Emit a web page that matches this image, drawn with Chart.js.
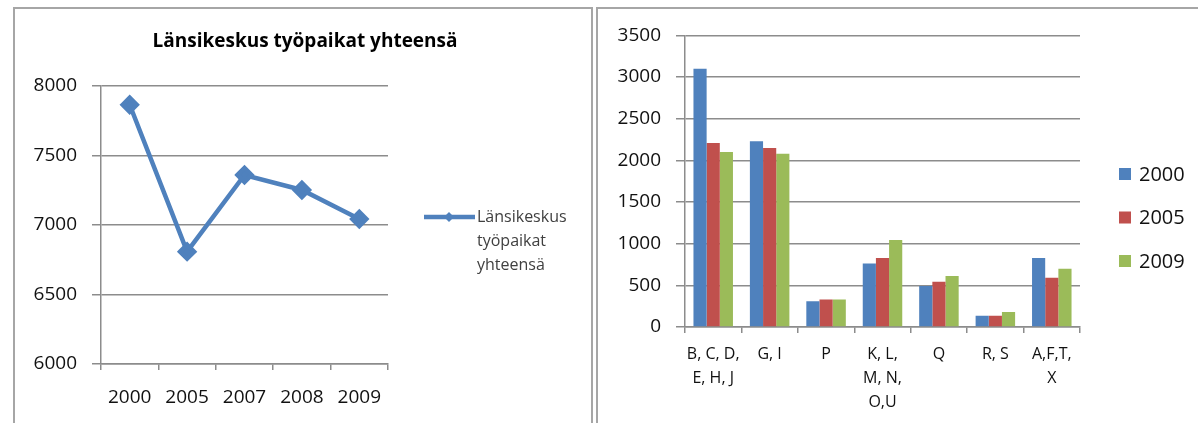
<!DOCTYPE html>
<html>
<head>
<meta charset="utf-8">
<script src="https://cdn.jsdelivr.net/npm/chart.js@4.4.1/dist/chart.umd.min.js"></script>
<style>
    body { margin: 0; background: #fff; width: 1198px; height: 423px; overflow: hidden; position: relative; }
    .panel { position: absolute; border: 2px solid #a6a6a6; border-bottom: none; background: #fff; }
    #leftPanel { left: 13px; top: 7px; width: 576px; height: 420px; }
    #rightPanel { left: 596px; top: 7px; width: 610px; height: 420px; border-right: none; }
    canvas { position: absolute; left: 0; top: 0; }
</style>
</head>
<body>
<div class="panel" id="leftPanel"><canvas id="lineChart" width="576" height="414"></canvas></div>
<div class="panel" id="rightPanel"><canvas id="barChart" width="600" height="414"></canvas></div>
<script>
const lineYears = ['2000', '2005', '2007', '2008', '2009'];
const lineValues = [7865, 6808, 7360, 7252, 7043];
const lineLabel = 'Länsikeskus työpaikat yhteensä';

const barCategories = [['B, C, D,', 'E, H, J'], 'G, I', 'P', ['K, L,', 'M, N,', 'O,U'], 'Q', 'R, S', ['A,F,T,', 'X']];
const barYears = ['2000', '2005', '2009'];
const values2000 = [3100, 2230, 310, 762, 492, 135, 829];
const values2005 = [2210, 2147, 330, 829, 544, 135, 591];
const values2009 = [2100, 2079, 330, 1044, 611, 179, 698];
const barColors = ['#4f81bd', '#c0504d', '#9bbb59'];

const FONT = "'Open Sans', sans-serif";
Chart.defaults.font.family = FONT;
Chart.defaults.color = '#111';
Chart.defaults.animation = false;

const gridColor = '#8c8c8c';
const plainNumber = v => String(v);

// title centred on the whole panel, not on the plot
const panelTitle = {
    id: 'panelTitle',
    afterDraw(chart) {
        const ctx = chart.ctx;
        ctx.save();
        ctx.font = 'bold 19px ' + FONT;
        ctx.fillStyle = '#000';
        ctx.textAlign = 'center';
        ctx.textBaseline = 'middle';
        ctx.fillText(lineLabel, chart.width / 2 + 2, 33);
        ctx.restore();
    }
};

// legend for the line chart, label wrapped over three lines
const lineLegend = {
    id: 'lineLegend',
    afterDraw(chart) {
        const ctx = chart.ctx;
        const area = chart.chartArea;
        const x0 = area.right + 36;
        const y0 = 208;
        ctx.save();
        ctx.strokeStyle = '#4f81bd';
        ctx.lineWidth = 4.5;
        ctx.beginPath();
        ctx.moveTo(x0, y0);
        ctx.lineTo(x0 + 51, y0);
        ctx.stroke();
        ctx.fillStyle = '#4f81bd';
        ctx.beginPath();
        ctx.moveTo(x0 + 25, y0 - 5);
        ctx.lineTo(x0 + 30, y0);
        ctx.lineTo(x0 + 25, y0 + 5);
        ctx.lineTo(x0 + 20, y0);
        ctx.closePath();
        ctx.fill();
        ctx.fillStyle = '#404040';
        ctx.font = '16px ' + FONT;
        ctx.textBaseline = 'middle';
        ['Länsikeskus', 'työpaikat', 'yhteensä'].forEach((t, i) => {
            ctx.fillText(t, x0 + 53, y0 + i * 24);
        });
        ctx.restore();
    }
};

const barLegend = {
    id: 'barLegend',
    afterDraw(chart) {
        const ctx = chart.ctx;
        const area = chart.chartArea;
        const x0 = area.right + 39;
        ctx.save();
        ctx.font = '20px ' + FONT;
        ctx.textBaseline = 'middle';
        chart.data.datasets.forEach((ds, i) => {
            const y = 165 + i * 43.5;
            ctx.fillStyle = ds.backgroundColor;
            ctx.fillRect(x0, y - 6, 12, 12);
            ctx.fillStyle = '#111';
            ctx.fillText(ds.label, x0 + 20, y + 1);
        });
        ctx.restore();
    }
};

new Chart(document.getElementById('lineChart'), {
    type: 'line',
    data: {
        labels: lineYears,
        datasets: [{
            label: lineLabel,
            data: lineValues,
            borderColor: '#4f81bd',
            backgroundColor: '#4f81bd',
            borderWidth: 4.5,
            pointStyle: 'rectRot',
            pointRadius: 7,
            pointHoverRadius: 7,
            tension: 0
        }]
    },
    options: {
        responsive: false,
        layout: { padding: { left: 16, right: 203, top: 77, bottom: 0 } },
        plugins: {
            legend: { display: false },
            tooltip: { enabled: false }
        },
        scales: {
            x: {
                offset: true,
                grid: { offset: true, drawOnChartArea: false, color: gridColor, lineWidth: 1.5, tickLength: 6 },
                border: { color: gridColor, width: 1.5 },
                ticks: { font: { size: 19 }, padding: 16 },
                afterFit(scale) { scale.height = 59; }
            },
            y: {
                min: 6000,
                max: 8000,
                ticks: { stepSize: 500, font: { size: 19 }, padding: 15, callback: plainNumber },
                grid: { color: gridColor, lineWidth: 1.5, tickLength: 9 },
                border: { color: gridColor, width: 1.5 },
                afterFit(scale) { scale.width = 70; }
            }
        }
    },
    plugins: [panelTitle, lineLegend]
});

new Chart(document.getElementById('barChart'), {
    type: 'bar',
    data: {
        labels: barCategories,
        datasets: [
            { label: barYears[0], data: values2000, backgroundColor: barColors[0] },
            { label: barYears[1], data: values2005, backgroundColor: barColors[1] },
            { label: barYears[2], data: values2009, backgroundColor: barColors[2] }
        ]
    },
    options: {
        responsive: false,
        layout: { padding: { left: 17, right: 118, top: 24, bottom: 0 } },
        datasets: { bar: { categoryPercentage: 0.7, barPercentage: 1.0 } },
        plugins: {
            legend: { display: false },
            tooltip: { enabled: false }
        },
        scales: {
            x: {
                grid: { offset: true, drawOnChartArea: false, color: gridColor, lineWidth: 1.5, tickLength: 6 },
                border: { color: gridColor, width: 1.5 },
                ticks: { font: { size: 16, lineHeight: 1.5 }, padding: 9, maxRotation: 0, autoSkip: false },
                afterFit(scale) { scale.height = 96; }
            },
            y: {
                min: 0,
                max: 3500,
                ticks: { stepSize: 500, font: { size: 19 }, padding: 15, callback: plainNumber },
                grid: { color: gridColor, lineWidth: 1.5, tickLength: 9 },
                border: { color: gridColor, width: 1.5 },
                afterFit(scale) { scale.width = 70; }
            }
        }
    },
    plugins: [barLegend]
});
</script>
</body>
</html>
